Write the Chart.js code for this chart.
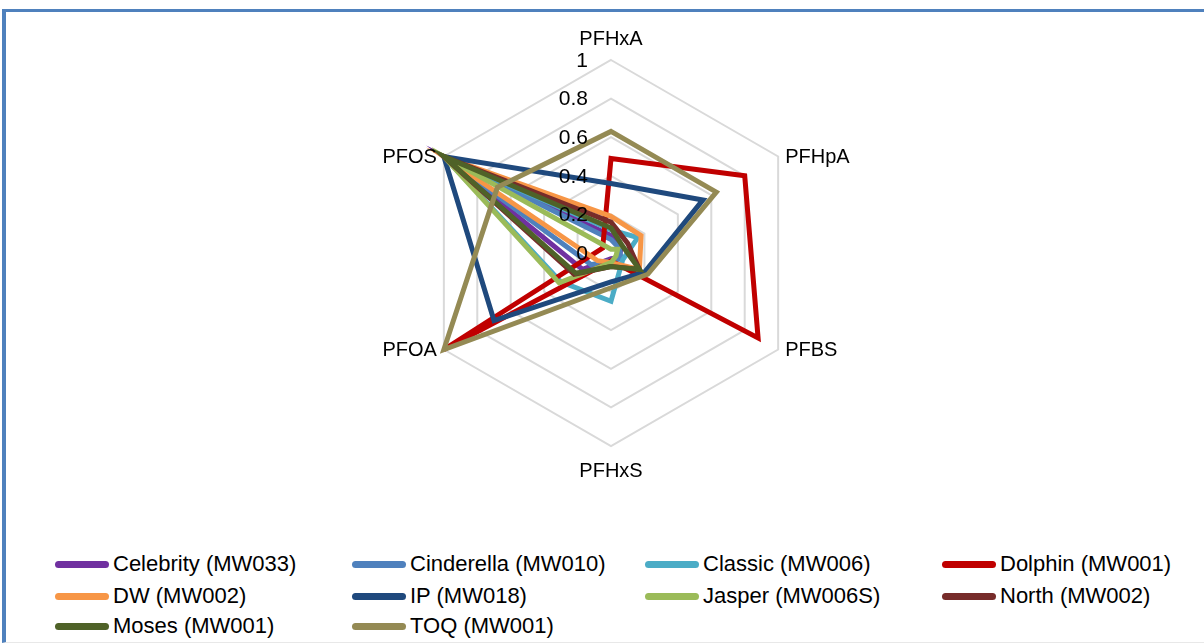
<!DOCTYPE html>
<html>
<head>
<meta charset="utf-8">
<script src="https://cdn.jsdelivr.net/npm/chart.js@4.4.1/dist/chart.umd.min.js"></script>
<style>
    body { margin: 0; background: #fff; font-family: "Liberation Sans", Arial, sans-serif; }
    #frame {
        position: absolute; left: 2px; top: 9px; width: 1210px; height: 630px;
        border-left: 4px solid #4F81BD; border-top: 3px solid #4F81BD; border-bottom: 1px solid #E8E8E8;
    }
    #graph { position: absolute; left: 0; top: 0; }
    #legend { position: absolute; left: 0; top: 549px; width: 1204px; }
    .legend-item { position: absolute; height: 30px; display: flex; align-items: center; font-size: 22px; color: #000; white-space: nowrap; }
    .legend-item span.swatch { display: inline-block; width: 54px; height: 7px; border-radius: 4px; margin-right: 4px; }
</style>
</head>
<body>
<div id="frame"></div>
<canvas id="graph" width="1204" height="500"></canvas>
<div id="legend"></div>
<script>
// categories (clockwise from top)
const labels = ['PFHxA', 'PFHpA', 'PFBS', 'PFHxS', 'PFOA', 'PFOS'];
const tickValues = [0, 0.2, 0.4, 0.6, 0.8, 1];

// series values, same order as labels
const celebrity  = [0.09, 0.06, 0.05, 0.03, 0.17, 1];
const cinderella = [0.07, 0.05, 0.06, 0.04, 0.12, 1];
const classic    = [0.12, 0.16, 0.07, 0.25, 0.30, 1];
const dolphin    = [0.49, 0.80, 0.88, 0.04, 1, 0.05];
const dw         = [0.19, 0.18, 0.17, 0.05, 0.08, 1];
const ip         = [0.36, 0.55, 0.20, 0.15, 0.70, 1];
const jasper     = [0.02, 0.04, 0.03, 0.05, 0.31, 1];
const north      = [0.16, 0.10, 0.17, 0.07, 0.22, 1];
const moses      = [0.13, 0.07, 0.17, 0.07, 0.21, 1];
const toq        = [0.63, 0.63, 0.22, 0.18, 1, 0.68];

const seriesNames = ['Celebrity (MW033)', 'Cinderella (MW010)', 'Classic (MW006)', 'Dolphin (MW001)',
    'DW (MW002)', 'IP (MW018)', 'Jasper (MW006S)', 'North (MW002)', 'Moses (MW001)', 'TOQ (MW001)'];
const seriesData = [celebrity, cinderella, classic, dolphin, dw, ip, jasper, north, moses, toq];
const seriesColors = ['#7030A0', '#4F81BD', '#4BACC6', '#C00000', '#F79646',
    '#1F497D', '#9BBB59', '#772C2A', '#4F6228', '#948A54'];

const font = '"Liberation Sans", Arial, sans-serif';

// draws the value labels and the category labels next to the scale
const labelPlugin = {
    id: 'excelLabels',
    afterDraw(chart) {
        const scale = chart.scales.r;
        const ctx = chart.ctx;
        ctx.save();
        ctx.fillStyle = '#000';

        // value labels, left of the vertical axis
        ctx.font = '21px ' + font;
        ctx.textAlign = 'right';
        ctx.textBaseline = 'middle';
        tickValues.forEach(v => {
            let y = scale.yCenter - scale.getDistanceFromCenterForValue(v);
            ctx.fillText(String(v), scale.xCenter - 23, y + 1);
        });

        // category labels
        ctx.font = '20px ' + font;
        labels.forEach((lab, i) => {
            let p = scale.getPointPosition(i, scale.drawingArea);
            let x = p.x, y = p.y;
            if (i === 0) { ctx.textAlign = 'center'; y -= 22; }
            else if (i === 3) { ctx.textAlign = 'center'; y += 24; }
            else if (i < 3) { ctx.textAlign = 'left'; x += 7; }
            else { ctx.textAlign = 'right'; x -= 7; }
            ctx.fillText(lab, x, y + 1);
        });
        ctx.restore();
    }
};

// html legend in four columns, built from the chart datasets
const legendCols = [55, 352, 645, 942];
const legendRows = [0, 32, 62];
const legendPlugin = {
    id: 'htmlLegend',
    afterUpdate(chart) {
        const box = document.getElementById('legend');
        box.innerHTML = '';
        chart.data.datasets.forEach((ds, i) => {
            const item = document.createElement('div');
            item.className = 'legend-item';
            item.style.left = legendCols[i % 4] + 'px';
            item.style.top = legendRows[Math.floor(i / 4)] + 'px';
            item.innerHTML = `<span class="swatch" style="background:${ds.borderColor}"></span>${ds.label}`;
            box.appendChild(item);
        });
    }
};

let datasets = seriesNames.map((name, i) => ({
    label: name,
    data: seriesData[i],
    borderColor: seriesColors[i],
    backgroundColor: 'transparent',
    borderWidth: 5,
    fill: false,
    pointRadius: 0,
    pointHoverRadius: 0,
    order: seriesNames.length - i
}));

let chart = new Chart(document.getElementById('graph').getContext('2d'), {
    type: 'radar',
    data: { labels: labels, datasets: datasets },
    options: {
        responsive: false,
        animation: false,
        layout: { padding: { left: 311, right: 293, top: 60, bottom: 53 } },
        plugins: { legend: { display: false }, tooltip: { enabled: false } },
        elements: { line: { tension: 0 } },
        scales: {
            r: {
                min: 0,
                max: 1,
                ticks: { stepSize: 0.2, display: false },
                grid: { color: '#D9D9D9', lineWidth: 2 },
                angleLines: { display: false },
                pointLabels: { display: false }
            }
        }
    },
    plugins: [labelPlugin, legendPlugin]
});
</script>
</body>
</html>
